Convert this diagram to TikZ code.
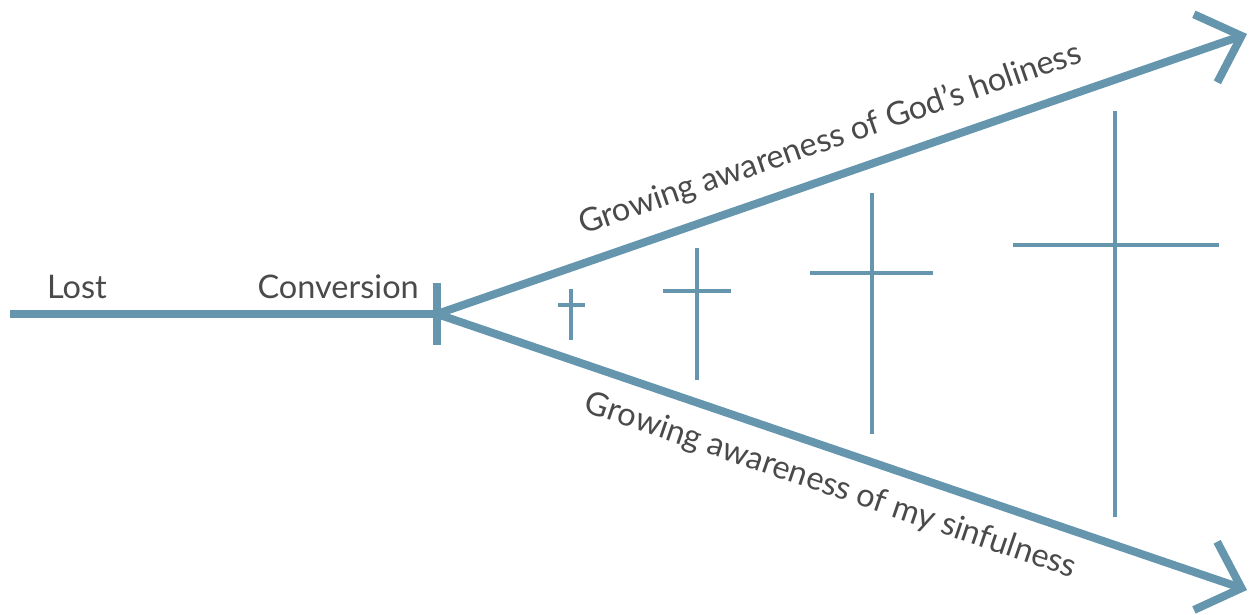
\documentclass[tikz,border=0pt]{standalone}
\usepackage{fontspec}
\setmainfont{Lato}
\usetikzlibrary{arrows.meta}
\definecolor{steel}{HTML}{6596AE}
\definecolor{txt}{HTML}{4A4A4A}
\tikzset{
  main/.style={draw=steel, line width=8pt},
  crossline/.style={draw=steel, line width=3.5pt},
  chev/.style={-{Straight Barb[length=38pt,width=72pt,line width=8pt]}},
  lbl/.style={text=txt, font=\fontsize{32.5}{38}\selectfont, inner sep=0pt},
}
\begin{document}
\begin{tikzpicture}[x=1pt,y=-1pt]
\useasboundingbox (0,0) rectangle (1252,615);
\coordinate (start) at (10,314);
\coordinate (conv) at (437,314);
\coordinate (top) at (1247,34);
\coordinate (bot) at (1247,590);
\coordinate (bartop) at (437,283);
\coordinate (barbot) at (437,345);
\draw[main] (start) -- (conv);
\draw[main] (bartop) -- (barbot);
\draw[main,chev] (conv) -- node[lbl,sloped,above=17pt,pos=0.5] (tl) {Growing awareness of God’s holiness} (top);
\draw[main,chev] (conv) -- node[lbl,sloped,below=17pt,pos=0.5] (bl) {Growing awareness of my sinfulness} (bot);
\node[lbl,anchor=base west] (lost) at (47,298) {Lost};
\node[lbl,anchor=base east] (cv) at (419,298) {Conversion};
% crosses
\coordinate (c1t) at (571,289); \coordinate (c1b) at (571,340);
\coordinate (c1l) at (558,305); \coordinate (c1r) at (585,305);
\coordinate (c2t) at (697,248); \coordinate (c2b) at (697,380);
\coordinate (c2l) at (663,291); \coordinate (c2r) at (731,291);
\coordinate (c3t) at (872,193); \coordinate (c3b) at (872,434);
\coordinate (c3l) at (810,273); \coordinate (c3r) at (933,273);
\coordinate (c4t) at (1115,111); \coordinate (c4b) at (1115,517);
\coordinate (c4l) at (1013,245); \coordinate (c4r) at (1219,245);
\foreach \i in {1,2,3,4}{
  \draw[crossline] (c\i t) -- (c\i b);
  \draw[crossline] (c\i l) -- (c\i r);
}
\end{tikzpicture}
\end{document}
